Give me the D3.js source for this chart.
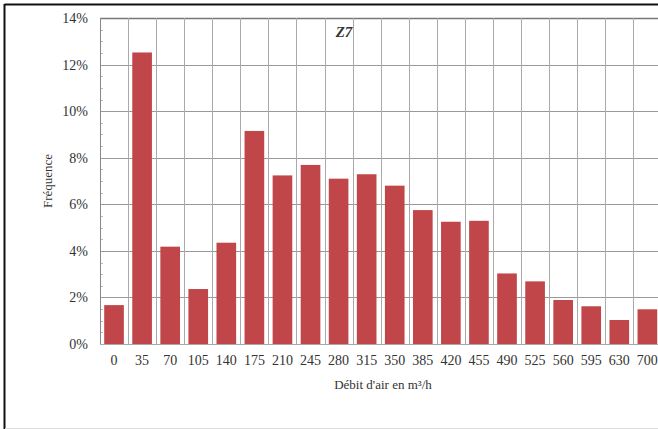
<!DOCTYPE html>
<html><head><meta charset="utf-8">
<script src="https://cdn.jsdelivr.net/npm/d3@7"></script>
<style>body{margin:0;background:#fff}svg{display:block}svg text{font-family:"Liberation Serif","DejaVu Serif",serif !important;fill:#333}</style>
</head><body><svg id="c" width="658" height="429"></svg>
<script>
const categories = ["0","35","70","105","140","175","210","245","280","315","350","385","420","455","490","525","560","595","630","700"];
const frequencies = [1.67,12.52,4.18,2.36,4.35,9.15,7.24,7.69,7.10,7.29,6.80,5.75,5.25,5.29,3.03,2.69,1.89,1.62,1.03,1.49];
const yTicks = [0,2,4,6,8,10,12,14];
const title = "Z7";
const xTitle = "Débit d'air en m³/h";
const yTitle = "Fréquence";

const svg = d3.select("#c");
const L = 100, T = 18, B = 344, R = 661.4;
const x = d3.scaleBand().domain(categories).range([L, R]).paddingInner(0.3).paddingOuter(0.15);
const xg = d3.scaleBand().domain(categories).range([L, R]).padding(0);
const y = d3.scaleLinear().domain([0, 14]).range([B, T]);

// outer frame
svg.append("line").attr("x1",4.5).attr("x2",658).attr("y1",4.5).attr("y2",4.5).attr("stroke","#111").attr("stroke-width",2);
svg.append("line").attr("x1",4.5).attr("x2",4.5).attr("y1",4).attr("y2",429).attr("stroke","#111").attr("stroke-width",2);
svg.append("line").attr("x1",5).attr("x2",658).attr("y1",428.5).attr("y2",428.5).attr("stroke","#ddd").attr("stroke-width",1);

// minor ticks
const minor = d3.range(0, 14.01, 0.5).filter(v => v % 2 !== 0);
svg.append("g").selectAll("line").data(minor).join("line")
  .attr("x1", L).attr("x2", L + 3).attr("y1", d => Math.round(y(d)) + 0.5).attr("y2", d => Math.round(y(d)) + 0.5)
  .attr("stroke", "#bbb");

// horizontal grid
svg.append("g").selectAll("line").data(yTicks).join("line")
  .attr("x1", L).attr("x2", R).attr("y1", d => Math.round(y(d)) + 0.5).attr("y2", d => Math.round(y(d)) + 0.5)
  .attr("stroke", d => d === 14 ? "#777" : "#999").attr("stroke-width", d => d === 14 ? 1.5 : 1);

// vertical grid (band boundaries)
svg.append("g").selectAll("line").data(categories).join("line")
  .attr("x1", d => Math.round(xg(d)) + 0.5).attr("x2", d => Math.round(xg(d)) + 0.5)
  .attr("y1", T).attr("y2", B)
  .attr("stroke", (d, i) => i === 0 ? "#888" : "#aaa");

// bars
svg.append("g").selectAll("rect").data(frequencies).join("rect")
  .attr("x", (d, i) => x(categories[i])).attr("width", x.bandwidth())
  .attr("y", d => y(d)).attr("height", d => B - y(d))
  .attr("fill", "#c0464a");

// baseline
svg.append("line").attr("x1", L).attr("x2", R).attr("y1", B + 0.5).attr("y2", B + 0.5).attr("stroke", "#aaa");

// y axis labels
const yAxis = d3.axisLeft(y).tickValues(yTicks).tickFormat(d => d + "%").tickSize(0).tickPadding(12);
const ga = svg.append("g").attr("transform", `translate(${L},0)`).call(yAxis);
ga.select(".domain").remove();
ga.attr("font-size", 14);

// x axis labels
const xAxis = d3.axisBottom(xg).tickSize(0).tickPadding(11);
const gx = svg.append("g").attr("transform", `translate(0,${B})`).call(xAxis);
gx.select(".domain").remove();
gx.attr("font-size", 14);

// titles
svg.append("text").attr("x", 344).attr("y", 37).attr("text-anchor", "middle")
  .attr("font-size", 15).attr("font-weight", "bold").attr("font-style", "italic").text(title);
svg.append("text").attr("x", 383).attr("y", 389).attr("text-anchor", "middle")
  .attr("font-size", 13).text(xTitle);
svg.append("text").attr("transform", "translate(52,181) rotate(-90)").attr("text-anchor", "middle")
  .attr("font-size", 13).text(yTitle);
</script></body></html>
